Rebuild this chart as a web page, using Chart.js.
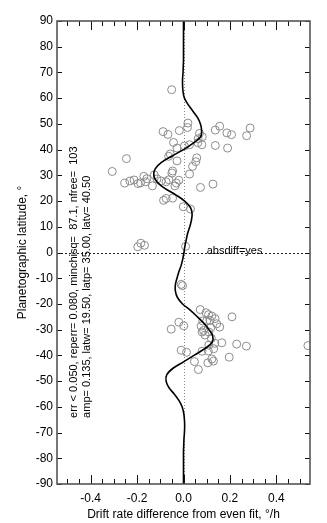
<!DOCTYPE html>
<html>
<head>
<meta charset="utf-8">
<script src="https://cdn.jsdelivr.net/npm/chart.js@4.4.1/dist/chart.umd.min.js"></script>
<style>
  html, body { margin: 0; padding: 0; background: #fff; }
</style>
</head>
<body>
<canvas id="driftChart" width="327" height="523"></canvas>
<script>
// fitted curve, latitude (deg) and drift difference (deg/h)
const curveLat = [90, 85, 80, 75, 72.5, 70, 67.5, 65, 62.5, 60, 57.5, 55, 52.5, 50, 47.5, 45, 42.5, 40,
  37.5, 35, 32.5, 30, 27.5, 25, 22.5, 20, 17.5, 15, 12.5, 10, 7.5, 5, 2.5, 0,
  -2.5, -5, -7.5, -10, -12.5, -15, -17.5, -20, -22.5, -25, -27.5, -30, -32.5, -35, -37.5, -40,
  -42.5, -45, -47.5, -50, -52.5, -55, -57.5, -60, -62.5, -65, -67.5, -70, -72.5, -75, -77.5, -80, -85, -90];
const curveDrift = [0, 0, 0, 0, -0.001, -0.002, -0.004, -0.004, -0.002, 0.004, 0.02, 0.04, 0.06, 0.073, 0.078, 0.074, 0.042, 0.0,
  -0.05, -0.095, -0.122, -0.128, -0.115, -0.082, -0.035, 0.005, 0.03, 0.037, 0.034, 0.027, 0.018, 0.012, 0.006, 0.002,
  -0.003, -0.01, -0.02, -0.028, -0.035, -0.035, -0.026, -0.004, 0.03, 0.06, 0.088, 0.11, 0.126, 0.123, 0.09, 0.045,
  0.0, -0.045, -0.072, -0.075, -0.063, -0.04, -0.02, -0.006, 0.001, 0.004, 0.005, 0.004, 0.002, 0.001, 0, 0, 0, 0];

// measured points
const ptDrift = [-0.051, 0.019, 0.017, -0.018, -0.088, -0.067, 0.156, 0.137, 0.187, 0.207, 0.287, 0.272,
  0.069, 0.081, 0.063, 0.079, 0.062, 0.026, 0.004, -0.043, -0.028, 0.137, 0.19,
  -0.057, -0.064, 0.057, 0.053, -0.028, -0.246, 0.039, -0.047, -0.05, 0.026, -0.307, -0.126,
  -0.253, -0.231, -0.213, -0.196, -0.185, -0.171, -0.163, -0.158, -0.134, -0.114, -0.096, -0.075, -0.063,
  -0.037, -0.031, -0.02, 0.073, 0.127, -0.086, -0.075, -0.047, -0.001, 0.03,
  -0.197, -0.184, -0.168, 0.009,
  -0.01, -0.004, 0.072, 0.097, 0.108, 0.122, 0.136, 0.114, 0.1, 0.083, 0.143, 0.209,
  -0.02, 0.001, -0.053, 0.076, 0.086, 0.156, 0.109, 0.08, 0.118, 0.093, 0.12, 0.165, 0.135, 0.109,
  0.229, 0.271, 0.536, -0.01, 0.013, 0.08, 0.107, 0.13, 0.047, 0.064, 0.105, 0.122, 0.129, 0.197];
const ptLat = [63.3, 50.3, 48.6, 47.4, 47.0, 45.9, 49.1, 47.6, 46.5, 45.8, 48.4, 45.4,
  46.3, 45.0, 44.2, 41.9, 42.7, 41.9, 41.4, 42.8, 40.6, 41.6, 40.6,
  38.3, 37.4, 36.8, 35.3, 35.6, 36.5, 33.5, 31.7, 30.9, 30.5, 31.5, 30.2,
  27.0, 27.8, 28.2, 26.8, 27.1, 29.6, 27.5, 28.7, 25.9, 28.6, 27.8, 27.5, 28.3,
  25.9, 27.0, 28.1, 25.3, 26.6, 20.3, 21.0, 21.1, 17.8, 16.9,
  2.2, 3.6, 2.8, 2.4,
  -12.4, -12.9, -22.2, -23.4, -24.2, -24.7, -25.7, -26.4, -26.6, -26.6, -27.7, -25.0,
  -27.1, -28.5, -29.8, -28.6, -30.3, -29.0, -30.9, -30.9, -29.2, -32.1, -33.4, -35.1, -35.3, -36.0,
  -35.6, -36.4, -36.2, -38.0, -38.8, -38.4, -38.3, -37.4, -42.4, -45.5, -42.9, -41.4, -42.2, -40.7];

// axis ticks
const xMajor = [-0.4, -0.2, 0.0, 0.2, 0.4];
const xMinor = [-0.5, -0.45, -0.4, -0.35, -0.3, -0.25, -0.2, -0.15, -0.1, -0.05, 0, 0.05, 0.1, 0.15,
  0.2, 0.25, 0.3, 0.35, 0.4, 0.45, 0.5];
const yMajor = [-90, -80, -70, -60, -50, -40, -30, -20, -10, 0, 10, 20, 30, 40, 50, 60, 70, 80, 90];

const fitText = [
  'err < 0.050, reperr= 0.080, minchisq=  87.1, nfree=  103',
  'amp= 0.135, latw= 19.50, latp= 35.00, latv= 40.50'
];

const FONT = "'Liberation Sans', Arial, Helvetica, sans-serif";

const framePlugin = {
  id: 'frame',
  beforeDatasetsDraw(chart) {
    const { ctx, chartArea: a, scales: { x, y } } = chart;
    ctx.save();
    ctx.lineWidth = 1;
    // zero lines
    const x0 = Math.round(x.getPixelForValue(0)) + 0.5;
    ctx.strokeStyle = '#888';
    ctx.setLineDash([1, 2]);
    ctx.beginPath(); ctx.moveTo(x0, a.top); ctx.lineTo(x0, a.bottom); ctx.stroke();
    const y0 = Math.round(y.getPixelForValue(0)) + 0.5;
    ctx.strokeStyle = '#222';
    ctx.setLineDash([2, 2]);
    ctx.beginPath(); ctx.moveTo(a.left, y0); ctx.lineTo(a.right, y0); ctx.stroke();
    ctx.restore();
  },
  afterDatasetsDraw(chart) {
    const { ctx, chartArea: a, scales: { x, y } } = chart;
    ctx.save();
    // ticks pointing inwards
    ctx.strokeStyle = '#111';
    ctx.lineWidth = 1;
    ctx.beginPath();
    xMinor.forEach(v => {
      const px = Math.round(x.getPixelForValue(v)) + 0.5;
      const len = xMajor.some(m => Math.abs(m - v) < 1e-6) ? 9 : 5;
      ctx.moveTo(px, a.bottom); ctx.lineTo(px, a.bottom - len);
      ctx.moveTo(px, a.top); ctx.lineTo(px, a.top + len);
    });
    yMajor.forEach(v => {
      const py = Math.round(y.getPixelForValue(v)) + 0.5;
      ctx.moveTo(a.left, py); ctx.lineTo(a.left + 5, py);
      ctx.moveTo(a.right, py); ctx.lineTo(a.right - 5, py);
    });
    ctx.stroke();
    // box
    ctx.strokeStyle = '#555';
    ctx.lineWidth = 1.6;
    ctx.strokeRect(a.left, a.top, a.right - a.left, a.bottom - a.top);
    ctx.restore();
  },
  afterDraw(chart) {
    const { ctx, scales: { x, y } } = chart;
    ctx.save();
    ctx.fillStyle = '#000';
    ctx.font = '11px ' + FONT;
    ctx.textBaseline = 'alphabetic';
    ctx.textAlign = 'left';
    ctx.fillText('absdiff=yes', x.getPixelForValue(0.1), y.getPixelForValue(0) + 1);

    const startY = y.getPixelForValue(-64.3);
    const cols = [-0.472, -0.414];
    fitText.forEach((t, i) => {
      ctx.save();
      ctx.translate(x.getPixelForValue(cols[i]), startY);
      ctx.rotate(-Math.PI / 2);
      ctx.textBaseline = 'middle';
      ctx.fillText(t, 0, 0);
      ctx.restore();
    });
    ctx.restore();
  }
};

const ctx = document.getElementById('driftChart').getContext('2d');
new Chart(ctx, {
  type: 'scatter',
  data: {
    datasets: [{
      type: 'line',
      label: 'fit',
      data: curveLat.map((lat, i) => ({ x: curveDrift[i], y: lat })),
      borderColor: '#000',
      borderWidth: 1.6,
      pointRadius: 0,
      tension: 0.35,
      fill: false,
      order: 0,
      clip: 0
    }, {
      label: 'drift',
      data: ptLat.map((lat, i) => ({ x: ptDrift[i], y: lat })),
      pointStyle: 'circle',
      pointRadius: 4,
      pointBorderWidth: 1,
      pointBorderColor: '#8c8c8c',
      pointBackgroundColor: 'rgba(0,0,0,0)',
      order: 1,
      clip: 0
    }]
  },
  options: {
    responsive: false,
    animation: false,
    devicePixelRatio: 1,
    layout: { padding: { left: 11, right: 17, top: 21, bottom: 0 } },
    plugins: { legend: { display: false }, tooltip: { enabled: false } },
    scales: {
      x: {
        type: 'linear',
        min: -0.545,
        max: 0.545,
        grid: { display: false, drawTicks: false },
        border: { display: false },
        afterBuildTicks: s => { s.ticks = xMajor.map(v => ({ value: v })); },
        afterFit: s => { s.height = 39; },
        ticks: {
          padding: 7,
          color: '#000',
          font: { family: FONT, size: 12 },
          callback: v => Number(v).toFixed(1)
        },
        title: {
          display: true,
          text: 'Drift rate difference from even fit, °/h',
          color: '#000',
          font: { family: FONT, size: 12 },
          padding: { top: 0, bottom: 1 }
        }
      },
      y: {
        type: 'linear',
        min: -90,
        max: 90,
        grid: { display: false, drawTicks: false },
        border: { display: false },
        afterBuildTicks: s => { s.ticks = yMajor.map(v => ({ value: v })); },
        afterFit: s => { s.width = 46; },
        ticks: {
          padding: 4,
          color: '#000',
          font: { family: FONT, size: 12 },
          callback: v => String(v)
        },
        title: {
          display: true,
          text: 'Planetographic latitude, °',
          color: '#000',
          font: { family: FONT, size: 12 },
          padding: { top: 4, bottom: 0 }
        }
      }
    }
  },
  plugins: [framePlugin]
});
</script>
</body>
</html>
